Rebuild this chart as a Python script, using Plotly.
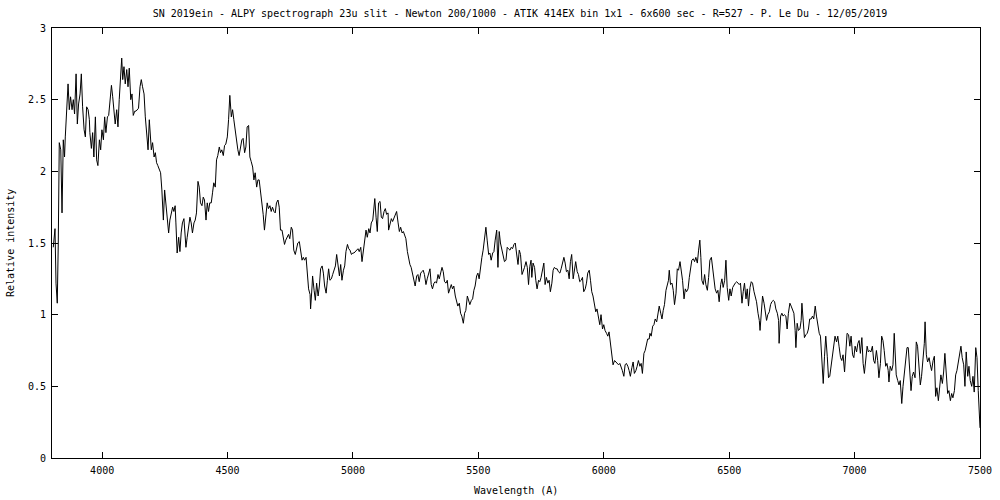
import plotly.graph_objects as go

# ---- spectrum data (wavelength in Angstrom, relative intensity) ----
wl_a = [3805,3812,3816,3821,3825,3829,3835,3840,3845,3850,3853,3858,3864,3869,3874,3880,3885,3890,3896,3901,
        3906,3912,3917,3922,3928,3933,3938,3944,3949,3951,3957,3962,3967,3973,3978,3983,3989,3994,3999,4005,
        4010,4015,4021,4026,4031,4037,4042,4047,4052,4058,4063,4068,4071,4074,4078,4082,4087,4092,4098,4103,
        4108,4114,4119,4124,4130,4135,4140,4145,4151,4156,4161,4167,4172,4177,4183,4188,4191,4196,4201,4207,
        4212,4217,4222,4228,4233,4238,4244,4249,4254,4260,4265]
fl_a = [1.47,1.60,1.22,1.08,1.50,2.20,2.15,1.71,2.22,2.10,2.24,2.40,2.61,2.43,2.52,2.43,2.50,2.40,2.68,2.33,
        2.47,2.54,2.68,2.45,2.29,2.24,2.45,2.43,2.36,2.27,2.16,2.27,2.10,2.38,2.08,2.04,2.22,2.15,2.29,2.22,
        2.38,2.27,2.38,2.39,2.52,2.60,2.52,2.40,2.33,2.43,2.31,2.50,2.61,2.71,2.79,2.64,2.73,2.61,2.71,2.59,
        2.72,2.50,2.54,2.39,2.42,2.42,2.43,2.44,2.59,2.64,2.59,2.54,2.38,2.27,2.15,2.36,2.27,2.15,2.20,2.10,
        2.13,2.06,2.04,2.01,1.99,1.87,1.66,1.87,1.78,1.68,1.57]

wl_b = [4270,4277,4281,4286,4291,4294,4299,4305,4310,4315,4320,4326,4330,4334,4339,4344,4350,4355,4360,4366,
        4371,4376,4382,4387,4392,4398,4403,4408,4414,4419,4424,4429,4435,4440,4445,4451,4456,4461,4467,4472,
        4477,4483,4488,4493,4499,4504,4509,4515,4520,4525,4530,4536,4541,4546,4552,4557,4562,4568,4573,4578,
        4584,4589,4594,4600,4605,4610,4616,4621,4626,4631,4637,4642,4647,4653,4658,4663,4669,4674,4679,4685,
        4690,4695,4701,4706,4711,4717,4722,4727,4732,4738,4743,4748,4754,4759,4764,4770,4775,4780,4786]
fl_b = [1.66,1.71,1.75,1.72,1.76,1.64,1.43,1.54,1.44,1.57,1.64,1.67,1.54,1.47,1.54,1.61,1.68,1.64,1.57,1.64,
        1.66,1.71,1.93,1.89,1.78,1.76,1.82,1.80,1.66,1.78,1.72,1.78,1.78,1.85,1.92,1.89,2.08,2.11,2.17,2.13,
        2.15,2.11,2.18,2.19,2.24,2.36,2.53,2.38,2.43,2.36,2.29,2.18,2.15,2.11,2.16,2.22,2.23,2.13,2.17,2.31,
        2.32,2.10,2.07,2.03,1.94,1.99,1.89,1.94,1.94,1.87,1.78,1.70,1.59,1.71,1.78,1.74,1.76,1.72,1.75,1.72,
        1.71,1.78,1.80,1.75,1.59,1.59,1.52,1.49,1.52,1.54,1.56,1.53,1.61,1.59,1.45,1.42,1.46,1.50,1.51]

wl_c = [4792,4797,4802,4807,4813,4818,4823,4829,4831,4837,4839,4845,4850,4855,4861,4866,4871,4877,4882,4887,
        4893,4898,4903,4908,4914,4919,4924,4930,4935,4940,4946,4951,4956,4962,4967,4972,4978,4983,4988,4994,
        4999,5004,5009,5015,5020,5025,5031,5036,5041,5047,5052,5057,5063,5068,5073,5079,5084,5087,5092,5097,
        5102,5108,5113,5118,5124,5129,5134,5140,5142,5148,5153,5158,5164,5169,5174,5180,5185,5190,5196,5201,
        5206,5211,5217,5222]
fl_c = [1.42,1.38,1.40,1.38,1.40,1.29,1.18,1.14,1.04,1.20,1.27,1.17,1.10,1.22,1.13,1.20,1.32,1.34,1.29,1.20,
        1.15,1.24,1.32,1.24,1.25,1.28,1.31,1.34,1.42,1.36,1.27,1.35,1.24,1.31,1.34,1.44,1.49,1.46,1.45,1.42,
        1.43,1.43,1.44,1.45,1.46,1.44,1.47,1.37,1.44,1.51,1.59,1.54,1.60,1.57,1.64,1.66,1.73,1.81,1.68,1.58,
        1.78,1.79,1.68,1.67,1.72,1.74,1.70,1.71,1.59,1.64,1.67,1.65,1.68,1.71,1.72,1.64,1.58,1.61,1.57,1.58,
        1.56,1.53,1.44,1.38]

wl_d = [5227,5232,5238,5243,5248,5254,5259,5264,5270,5275,5280,5285,5291,5296,5301,5307,5312,5317,5323,5328,
        5333,5339,5344,5349,5355,5360,5365,5371,5376,5381,5386,5392,5397,5402,5408,5413,5418,5424,5429,5434,
        5440,5445,5450,5456,5461,5466,5472,5477,5482,5487,5493,5498,5503,5509,5514,5519,5525,5530,5535,5541,
        5546,5551,5557,5562,5567,5573,5578,5583,5588,5594,5599,5604,5610,5615,5620,5626,5631,5636,5642,5647,
        5652,5658,5663,5668,5674,5679,5684,5690,5695,5700]
fl_d = [1.35,1.33,1.28,1.22,1.20,1.27,1.28,1.23,1.29,1.30,1.31,1.28,1.21,1.25,1.29,1.32,1.21,1.18,1.22,1.23,
        1.22,1.28,1.25,1.30,1.33,1.30,1.23,1.22,1.24,1.15,1.18,1.21,1.18,1.20,1.13,1.10,1.06,1.08,1.01,0.99,
        0.94,1.01,1.03,1.13,1.10,1.07,1.10,1.11,1.17,1.20,1.27,1.29,1.25,1.36,1.40,1.45,1.54,1.61,1.52,1.42,
        1.43,1.38,1.43,1.44,1.52,1.59,1.33,1.58,1.50,1.44,1.39,1.37,1.38,1.47,1.46,1.45,1.47,1.46,1.49,1.50,
        1.43,1.35,1.45,1.42,1.28,1.30,1.33,1.37,1.33,1.21]

wl_e = [5705,5710,5713,5718,5724,5729,5734,5740,5745,5750,5756,5761,5766,5771,5777,5782,5787,5793,5798,5803,
        5809,5814,5819,5825,5830,5835,5841,5846,5851,5857,5862,5867,5872,5878,5883,5888,5894,5899,5904,5910,
        5915,5920,5926,5931,5936,5942,5947,5952,5957,5963,5968,5973,5979,5984,5989,5995,6000,6005,6011,6016,
        6021,6027,6032,6037,6043,6048,6053,6059,6064,6069,6074,6080,6085,6090,6096,6101,6106,6112,6117,6122,
        6128,6133,6138,6144,6149,6154,6160,6165,6170,6175,6181]
fl_e = [1.335,1.38,1.26,1.36,1.33,1.24,1.18,1.24,1.23,1.26,1.31,1.36,1.21,1.26,1.22,1.24,1.16,1.22,1.31,1.33,
        1.32,1.32,1.30,1.29,1.32,1.37,1.40,1.36,1.30,1.31,1.25,1.37,1.42,1.25,1.31,1.37,1.30,1.28,1.23,1.24,
        1.26,1.16,1.18,1.22,1.29,1.31,1.24,1.16,1.13,1.07,1.02,1.04,0.97,0.93,1.00,0.90,0.93,0.89,0.87,0.85,
        0.88,0.79,0.73,0.65,0.68,0.67,0.66,0.65,0.66,0.64,0.61,0.57,0.65,0.66,0.64,0.61,0.57,0.63,0.67,0.59,
        0.61,0.64,0.68,0.64,0.66,0.59,0.73,0.75,0.79,0.83,0.83]

wl_f = [6184,6189,6195,6200,6205,6211,6216,6221,6227,6232,6237,6242,6248,6253,6258,6261,6266,6272,6277,6282,
        6288,6293,6298,6304,6309,6314,6320,6325,6330,6336,6341,6346,6351,6357,6362,6367,6373,6378,6383,6387,
        6391,6397,6402,6407,6413,6418,6423,6429,6434,6439,6444,6450,6455,6460,6466,6471,6476,6482,6487,6492,
        6498,6503,6508,6514,6519,6524,6530,6535,6540,6545,6551,6556,6561,6567,6572,6577,6583,6588,6593,6599,
        6604,6609,6615,6620,6623,6628,6633,6639,6644,6649,6654,6660,6665,6670,6676,6681,6686,6692,6697]
fl_f = [0.87,0.85,0.92,0.93,0.97,0.95,1.01,1.06,1.01,0.97,1.03,1.07,1.17,1.21,1.24,1.31,1.21,1.22,1.17,1.07,
        1.15,1.32,1.31,1.37,1.31,1.24,1.11,1.18,1.16,1.18,1.26,1.32,1.38,1.39,1.37,1.40,1.36,1.45,1.52,1.40,
        1.24,1.21,1.28,1.21,1.17,1.26,1.38,1.40,1.33,1.24,1.18,1.15,1.17,1.09,1.21,1.25,1.19,1.24,1.38,1.19,
        1.10,1.18,1.13,1.19,1.21,1.22,1.23,1.22,1.21,1.22,1.08,1.16,1.22,1.11,1.18,1.06,1.19,1.23,1.22,1.16,
        1.13,1.09,1.01,0.96,0.89,1.06,1.13,1.08,1.00,0.96,1.00,1.02,1.07,1.09,1.10,1.09,1.04,1.01,0.96]

wl_g = [6699,6705,6710,6715,6720,6726,6731,6736,6742,6747,6752,6758,6763,6766,6771,6776,6782,6787,6790,6795,
        6800,6806,6811,6816,6821,6827,6832,6837,6843,6848,6853,6859,6864,6869,6875,6880,6885,6891,6896,6901,
        6907,6912,6917,6922,6928,6933,6938,6944,6949,6954,6960,6965,6970,6976,6981,6986,6992,6997,7002,7008,
        7013,7018,7023,7029,7034,7039,7045,7050,7055]
fl_g = [0.80,0.99,1.01,0.99,1.00,0.99,0.90,1.01,1.08,1.06,1.03,1.01,0.89,0.77,0.94,0.89,0.90,0.96,1.08,0.94,
        0.84,0.86,0.87,0.90,0.97,0.97,0.99,0.97,1.06,0.99,0.92,0.87,0.85,0.71,0.52,0.71,0.85,0.71,0.56,0.57,
        0.66,0.73,0.78,0.85,0.81,0.85,0.78,0.70,0.68,0.72,0.60,0.75,0.87,0.86,0.78,0.85,0.72,0.70,0.78,0.74,
        0.80,0.82,0.73,0.84,0.66,0.59,0.71,0.78,0.74]

wl_h = [7060,7065,7071,7076,7081,7087,7092,7097,7103,7108,7113,7118,7124,7129,7134,7137,7142,7148,7153,7158,
        7161,7166,7172,7177,7182,7188,7193,7198,7204,7209,7214,7219,7225,7230,7235,7241,7246,7251,7257,7262,
        7267,7273,7278,7281,7286,7291,7297,7302,7307,7313,7318,7323,7328,7334,7339,7344,7350,7355,7360,7366,
        7371,7376,7382,7387,7392,7398,7403,7408,7414,7419,7424,7429,7435,7440,7445,7451,7456,7461,7467,7472,
        7477,7483,7488,7493,7497,7500]
fl_h = [0.75,0.74,0.78,0.68,0.66,0.75,0.68,0.56,0.66,0.85,0.82,0.75,0.64,0.66,0.61,0.53,0.64,0.61,0.65,0.87,
        0.71,0.58,0.54,0.51,0.54,0.38,0.50,0.59,0.70,0.77,0.77,0.64,0.47,0.57,0.60,0.56,0.81,0.78,0.61,0.51,
        0.57,0.67,0.80,0.95,0.72,0.67,0.70,0.65,0.61,0.68,0.71,0.43,0.49,0.40,0.49,0.58,0.52,0.60,0.73,0.54,
        0.45,0.47,0.40,0.45,0.42,0.47,0.58,0.61,0.67,0.74,0.78,0.70,0.65,0.50,0.74,0.57,0.64,0.54,0.50,0.57,
        0.46,0.77,0.70,0.47,0.33,0.21]

TITLE = ("SN 2019ein - ALPY spectrograph 23u slit - Newton 200/1000 - ATIK 414EX bin 1x1 - "
         "6x600 sec - R=527 - P. Le Du - 12/05/2019")
X_LABEL = "Wavelength (A)"
Y_LABEL = "Relative intensity"
X_TICKS = [4000, 4500, 5000, 5500, 6000, 6500, 7000, 7500]
Y_TICKS = [0, 0.5, 1, 1.5, 2, 2.5, 3]

wavelength, flux = [], []
for w, f in [(wl_a, fl_a), (wl_b, fl_b), (wl_c, fl_c), (wl_d, fl_d),
             (wl_e, fl_e), (wl_f, fl_f), (wl_g, fl_g), (wl_h, fl_h)]:
    assert len(w) == len(f), (len(w), len(f), w[0])
    wavelength += w
    flux += f

FONT = "DejaVu Sans Mono"
FIG_W, FIG_H = 1000, 500
M_L, M_T = 52, 28
PLOT_W, PLOT_H = 928, 430

fig = go.Figure()
fig.add_trace(go.Scatter(x=wavelength, y=flux, mode="lines",
                         line=dict(color="black", width=1), showlegend=False,
                         hoverinfo="skip"))

axis_common = dict(showline=True, linecolor="black", linewidth=1, mirror="allticks",
                   ticks="inside", ticklen=6, tickcolor="black", tickwidth=1,
                   showgrid=False, zeroline=False, automargin=False,
                   tickfont=dict(family=FONT, size=10, color="black"))

fig.update_layout(
    width=FIG_W, height=FIG_H,
    margin=dict(l=M_L, r=FIG_W - M_L - PLOT_W, t=M_T, b=FIG_H - M_T - PLOT_H),
    paper_bgcolor="white", plot_bgcolor="white",
    title=dict(text=TITLE, x=520 / FIG_W, xanchor="center", y=1 - 13 / FIG_H, yanchor="middle",
               font=dict(family=FONT, size=10, color="black")),
    xaxis=dict(range=[3800, 7500], tickvals=X_TICKS, ticklabelstandoff=3, **axis_common),
    yaxis=dict(range=[0, 3], tickvals=Y_TICKS, ticklabelstandoff=3, **axis_common),
    annotations=[
        dict(text=X_LABEL, xref="paper", yref="paper", x=0.5, y=-32 / PLOT_H,
             xanchor="center", yanchor="middle", showarrow=False,
             font=dict(family=FONT, size=10, color="black")),
        dict(text=Y_LABEL, xref="paper", yref="paper", x=-42 / PLOT_W, y=0.5,
             xanchor="center", yanchor="middle", showarrow=False, textangle=-90,
             font=dict(family=FONT, size=10, color="black")),
    ],
)

# remove the default 8 px page margin so the figure fills the 1000x500 window exactly
fig.write_html("out.html", config={"displayModeBar": False},
               post_script="document.body.style.margin='0';document.body.style.overflow='hidden';")
